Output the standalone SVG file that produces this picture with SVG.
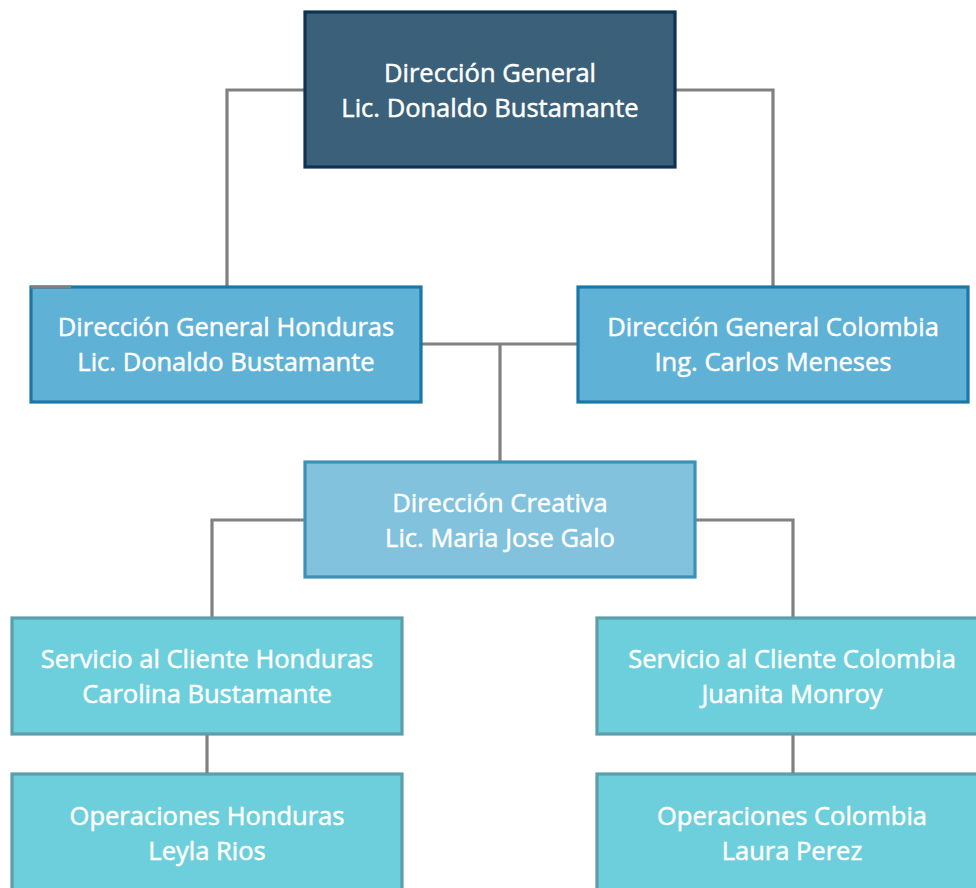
<svg xmlns="http://www.w3.org/2000/svg" width="976" height="888" viewBox="0 0 976 888">
<style>
.bg{fill:#ffffff}
.conn{fill:none;stroke:#808080;stroke-width:3.2}
.box{stroke-width:3.2}
.l0{fill:#3a6179;stroke:#0e3350}
.l1{fill:#5fb1d5;stroke:#1a78a8}
.l2{fill:#82c2dc;stroke:#3b92b7}
.l3{fill:#6ecfdc;stroke:#5a9fa9}
text{font-family:"Open Sans","Noto Sans","Liberation Sans",sans-serif;font-size:25.5px;fill:#ffffff;stroke:#ffffff;stroke-width:0.5;text-anchor:middle}
</style>
<rect class="bg" x="0" y="0" width="976" height="888"/>
<g id="connectors">
<path class="conn" d="M304 90 H227 V286"/>
<path class="conn" d="M676 90 H773 V286"/>
<path class="conn" d="M422 344 H578"/>
<path class="conn" d="M500 344 V462"/>
<path class="conn" d="M304 520 H212 V618"/>
<path class="conn" d="M695 520 H793 V618"/>
<path class="conn" d="M207 735 V774"/>
<path class="conn" d="M793 735 V774"/>
</g>
<g id="n-direccion-general">
<rect class="box l0" x="305" y="12" width="370" height="155"/>
<text x="490" y="82">Dirección General</text>
<text x="490" y="117">Lic. Donaldo Bustamante</text>
</g>
<g id="n-dg-honduras">
<rect class="box l1" x="31" y="287" width="390" height="115"/>
<text x="226" y="336">Dirección General Honduras</text>
<text x="226" y="371">Lic. Donaldo Bustamante</text>
</g>
<path class="conn" d="M31 287 H71"/>
<g id="n-dg-colombia">
<rect class="box l1" x="578" y="287" width="390" height="115"/>
<text x="773" y="336">Dirección General Colombia</text>
<text x="773" y="371">Ing. Carlos Meneses</text>
</g>
<g id="n-creativa">
<rect class="box l2" x="305" y="462" width="390" height="115"/>
<text x="500" y="512">Dirección Creativa</text>
<text x="500" y="547">Lic. Maria Jose Galo</text>
</g>
<g id="n-sc-honduras">
<rect class="box l3" x="12" y="618" width="390" height="116"/>
<text x="207" y="668">Servicio al Cliente Honduras</text>
<text x="207" y="703">Carolina Bustamante</text>
</g>
<g id="n-sc-colombia">
<rect class="box l3" x="597" y="618" width="390" height="116"/>
<text x="792" y="668">Servicio al Cliente Colombia</text>
<text x="792" y="703">Juanita Monroy</text>
</g>
<g id="n-op-honduras">
<rect class="box l3" x="12" y="774" width="390" height="118"/>
<text x="207" y="825">Operaciones Honduras</text>
<text x="207" y="860">Leyla Rios</text>
</g>
<g id="n-op-colombia">
<rect class="box l3" x="597" y="774" width="390" height="118"/>
<text x="792" y="825">Operaciones Colombia</text>
<text x="792" y="860">Laura Perez</text>
</g>
</svg>
